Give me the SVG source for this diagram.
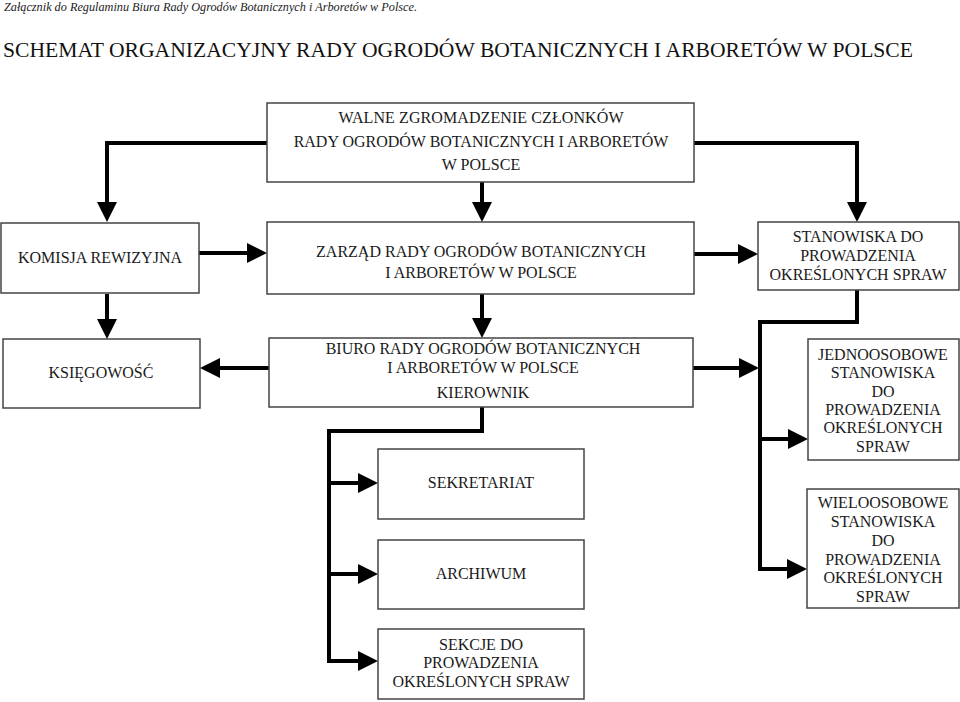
<svg xmlns="http://www.w3.org/2000/svg" width="960" height="702" viewBox="0 0 960 702">
<defs>
<marker id="ah" viewBox="0 0 10 10" refX="5" refY="5" markerWidth="5" markerHeight="5" orient="auto" markerUnits="strokeWidth">
<path d="M0,0 L10,5 L0,10 z" fill="#000"/>
</marker>
<style>
.box{fill:#fff;stroke:#444;stroke-width:1.5}
.t{font-family:"Liberation Serif","Times New Roman",serif;font-size:16px;fill:#1a1a1a;text-anchor:middle}
.c{fill:none;stroke:#000;stroke-width:4;stroke-linejoin:miter}
.a{marker-end:url(#ah)}
</style>
</defs>
<rect width="960" height="702" fill="#fff"/>
<text x="4" y="11" font-family="Liberation Serif, serif" font-style="italic" font-size="12" fill="#222" textLength="413" lengthAdjust="spacingAndGlyphs">Załącznik do Regulaminu Biura Rady Ogrodów Botanicznych i Arboretów w Polsce.</text>
<text x="3" y="57" font-family="Liberation Serif, serif" font-size="21" fill="#111" textLength="910" lengthAdjust="spacingAndGlyphs">SCHEMAT ORGANIZACYJNY RADY OGRODÓW BOTANICZNYCH I ARBORETÓW W POLSCE</text>
<g id="connectors">
<path class="c a" d="M267,143 H107 V212"/>
<path class="c a" d="M482,182 V212"/>
<path class="c a" d="M694,143 H857 V212"/>
<path class="c a" d="M199,253 H257"/>
<path class="c a" d="M694,254 H748"/>
<path class="c a" d="M107,294 V329"/>
<path class="c a" d="M482,294 V328"/>
<path class="c a" d="M269,368 H210"/>
<path class="c a" d="M693,368 H749"/>
<path class="c a" d="M857,290 V322 H760 V569 H797"/>
<path class="c a" d="M760,439 H798"/>
<path class="c a" d="M482,407 V431 H329 V661 H368"/>
<path class="c a" d="M329,483 H368"/>
<path class="c a" d="M329,574 H368"/>
</g>
<g id="walne">
<rect class="box" x="267" y="103" width="427" height="79"/>
<text class="t" x="481" y="123" textLength="285">WALNE ZGROMADZENIE CZŁONKÓW</text>
<text class="t" x="481" y="147">RADY OGRODÓW BOTANICZNYCH I ARBORETÓW</text>
<text class="t" x="481" y="170">W POLSCE</text>
</g>
<g id="komisja">
<rect class="box" x="1" y="223" width="198" height="70"/>
<text class="t" x="100" y="263">KOMISJA REWIZYJNA</text>
</g>
<g id="zarzad">
<rect class="box" x="267" y="222" width="427" height="72"/>
<text class="t" x="481" y="257">ZARZĄD RADY OGRODÓW BOTANICZNYCH</text>
<text class="t" x="481" y="278">I ARBORETÓW W POLSCE</text>
</g>
<g id="stanowiska">
<rect class="box" x="758" y="222" width="201" height="68"/>
<text class="t" x="858" y="242">STANOWISKA DO</text>
<text class="t" x="858" y="261">PROWADZENIA</text>
<text class="t" x="858" y="280">OKREŚLONYCH SPRAW</text>
</g>
<g id="ksiegowosc">
<rect class="box" x="3" y="339" width="197" height="69"/>
<text class="t" x="101" y="378">KSIĘGOWOŚĆ</text>
</g>
<g id="biuro">
<rect class="box" x="269" y="338" width="424" height="69"/>
<text class="t" x="483" y="354">BIURO RADY OGRODÓW BOTANICZNYCH</text>
<text class="t" x="483" y="373">I ARBORETÓW W POLSCE</text>
<text class="t" x="483" y="398">KIEROWNIK</text>
</g>
<g id="jednoosobowe">
<rect class="box" x="808" y="339" width="151" height="121"/>
<text class="t" x="883" y="360">JEDNOOSOBOWE</text>
<text class="t" x="883" y="378">STANOWISKA</text>
<text class="t" x="883" y="397">DO</text>
<text class="t" x="883" y="415">PROWADZENIA</text>
<text class="t" x="883" y="433">OKREŚLONYCH</text>
<text class="t" x="883" y="452">SPRAW</text>
</g>
<g id="wieloosobowe">
<rect class="box" x="807" y="489" width="152" height="119"/>
<text class="t" x="883" y="508">WIELOOSOBOWE</text>
<text class="t" x="883" y="527">STANOWISKA</text>
<text class="t" x="883" y="546">DO</text>
<text class="t" x="883" y="565">PROWADZENIA</text>
<text class="t" x="883" y="583">OKREŚLONYCH</text>
<text class="t" x="883" y="602">SPRAW</text>
</g>
<g id="sekretariat">
<rect class="box" x="378" y="449" width="206" height="70"/>
<text class="t" x="481" y="488">SEKRETARIAT</text>
</g>
<g id="archiwum">
<rect class="box" x="378" y="540" width="206" height="69"/>
<text class="t" x="481" y="579">ARCHIWUM</text>
</g>
<g id="sekcje">
<rect class="box" x="378" y="629" width="206" height="70"/>
<text class="t" x="481" y="650">SEKCJE DO</text>
<text class="t" x="481" y="668">PROWADZENIA</text>
<text class="t" x="481" y="687">OKREŚLONYCH SPRAW</text>
</g>
</svg>
